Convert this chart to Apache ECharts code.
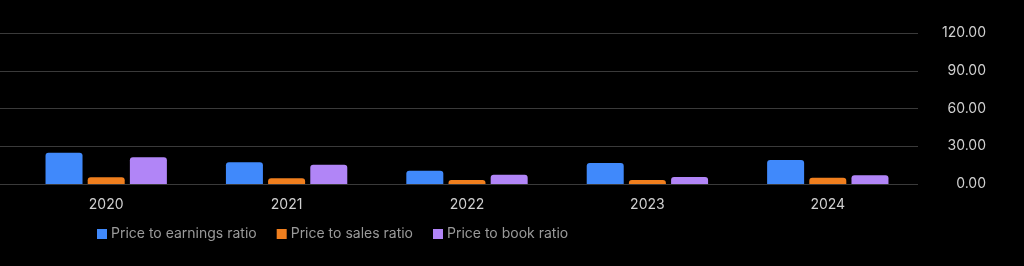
<!DOCTYPE html>
<html><head><meta charset="utf-8">
<script src="https://cdn.jsdelivr.net/npm/echarts@6/dist/echarts.min.js"></script>
<style>html,body{margin:0;padding:0;background:#000;}#c{width:1024px;height:266px;}</style>
</head><body><div id="c"></div>
<script>
const categories = ['2020','2021','2022','2023','2024'];
const peRatio = [24.9, 17.2, 10.6, 16.7, 19.1];
const psRatio = [5.3, 4.5, 3.2, 3.2, 5.0];
const pbRatio = [21.2, 15.3, 7.4, 5.6, 6.9];
const yTicks = [0, 30, 60, 90, 120];

const font = 'Inter, "Noto Sans", sans-serif';
const chart = echarts.init(document.getElementById('c'));
const yBase = {min: yTicks[0], max: yTicks[yTicks.length-1], interval: 30, position: 'right'};
chart.setOption({
  backgroundColor: '#000',
  animation: false,
  grid: [
    {left: 0, right: 106, top: 33, height: 151},
    {left: 16, right: 106, top: 33, height: 151}
  ],
  xAxis: [
    {type: 'category', gridIndex: 0, data: categories, show: false},
    {type: 'category', gridIndex: 1, data: categories,
     axisLine: {show: false}, axisTick: {show: false},
     axisLabel: {color: '#d0d0d0', fontSize: 14, margin: 14, fontFamily: font}}
  ],
  yAxis: [
    Object.assign({type: 'value', gridIndex: 0,
      axisLine: {show: false}, axisTick: {show: false},
      splitLine: {lineStyle: {color: '#3a3a3a', width: 1}},
      axisLabel: {color: '#d0d0d0', fontSize: 14, margin: 68, align: 'right', fontFamily: font,
        padding: [3, 0, 0, 0], formatter: v => v.toFixed(2)}}, yBase),
    Object.assign({type: 'value', gridIndex: 1, show: false, splitLine: {show: false}}, yBase)
  ],
  legend: {
    left: 97, top: 227, padding: 0, itemWidth: 10, itemHeight: 10, itemGap: 20,
    icon: 'rect',
    textStyle: {color: '#9a9a9a', fontSize: 14, fontFamily: font, padding: [0,0,0,-1]},
    data: ['Price to earnings ratio', 'Price to sales ratio', 'Price to book ratio']
  },
  series: [
    {name: 'Price to earnings ratio', type: 'bar', xAxisIndex: 1, yAxisIndex: 1, data: peRatio,
     barWidth: 37, barGap: '14%', itemStyle: {color: '#4089fb', borderRadius: [3,3,0,0]}},
    {name: 'Price to sales ratio', type: 'bar', xAxisIndex: 1, yAxisIndex: 1, data: psRatio,
     barWidth: 37, barGap: '14%', itemStyle: {color: '#f07f1e', borderRadius: [3,3,0,0]}},
    {name: 'Price to book ratio', type: 'bar', xAxisIndex: 1, yAxisIndex: 1, data: pbRatio,
     barWidth: 37, barGap: '14%', itemStyle: {color: '#b185f7', borderRadius: [3,3,0,0]}}
  ]
});
</script></body></html>
